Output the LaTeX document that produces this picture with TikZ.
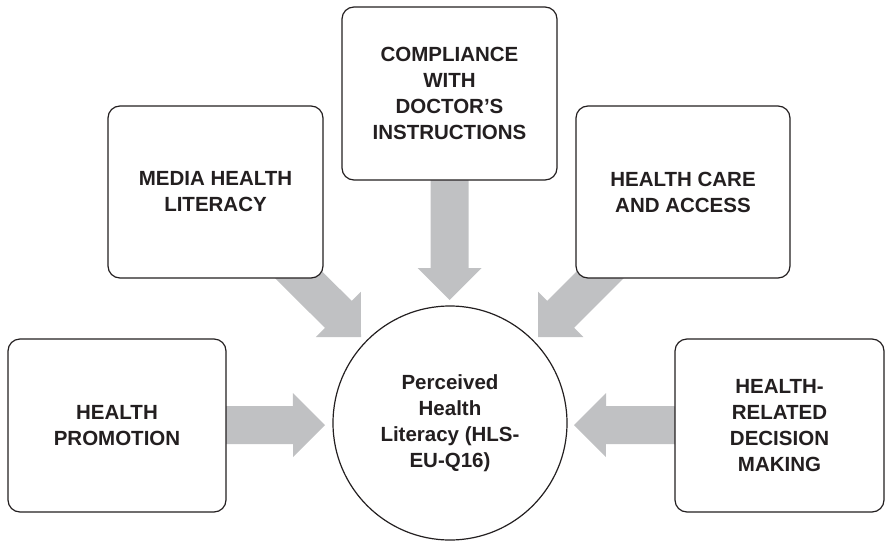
\documentclass[tikz,border=0pt]{standalone}
\usepackage{fontspec}
\setmainfont{Liberation Sans}
\usetikzlibrary{calc}
\pgfdeclarelayer{bg}
\pgfsetlayers{bg,main}
\definecolor{inkdark}{HTML}{231F20}
\definecolor{arrowgray}{HTML}{C0C1C3}
\tikzset{
  factor/.style={draw=inkdark, line width=1.2pt, fill=white, rounded corners=12pt,
    inner sep=0pt, align=center, text=inkdark,
    font=\fontsize{20.5}{26}\selectfont\bfseries},
  outcome/.style={draw=inkdark, line width=1.2pt, fill=white, circle,
    minimum size=234pt, inner sep=0pt, align=center, text=inkdark,
    font=\fontsize{20.5}{26}\selectfont\bfseries},
  blockarrow/.style={fill=arrowgray}
}
% Block arrow from #1 to tip #2: shaft 38pt wide, head 64pt wide and 32pt long
\newcommand\blockarrow[2]{%
  \coordinate (ba-h) at ($(#2)!32pt!(#1)$);
  \fill[blockarrow]
    ($(#1)!19pt!90:(#2)$) -- ($(ba-h)!19pt!90:(#2)$) -- ($(ba-h)!32pt!90:(#2)$)
    -- (#2)
    -- ($(ba-h)!32pt!-90:(#2)$) -- ($(ba-h)!19pt!-90:(#2)$) -- ($(#1)!19pt!-90:(#2)$)
    -- cycle;
}
\begin{document}
\begin{tikzpicture}[x=1pt,y=-1pt]
  \useasboundingbox (0,0) rectangle (886,541);

  % central outcome
  \node[outcome] (hl) at (450,423) {Perceived\\Health\\Literacy (HLS-\\EU-Q16)};

  % surrounding factors
  \node[factor, minimum width=218pt, minimum height=173pt] (hp) at (117,425.5) {HEALTH\\PROMOTION};
  \node[factor, minimum width=215pt, minimum height=172pt] (mhl) at (215.5,192) {MEDIA HEALTH\\LITERACY};
  \node[factor, minimum width=215pt, minimum height=173pt] (cdi) at (449.5,93.5) {COMPLIANCE\\WITH\\DOCTOR'S\\INSTRUCTIONS};
  \node[factor, minimum width=214pt, minimum height=172pt] (hca) at (683,192) {HEALTH CARE\\AND ACCESS};
  \node[factor, minimum width=209pt, minimum height=173pt] (hrdm) at (779.5,425.5) {HEALTH-\\RELATED\\DECISION\\MAKING};

  % arrow tips just outside the circle
  \coordinate (t-hp) at (325,425);
  \coordinate (t-mhl) at (361,337);
  \coordinate (t-cdi) at (449.5,300);
  \coordinate (t-hca) at (538,337);
  \coordinate (t-hrdm) at (574,425);

  % arrows run behind the boxes
  \begin{pgfonlayer}{bg}
    \blockarrow{hp.center}{t-hp}
    \blockarrow{mhl.center}{t-mhl}
    \blockarrow{cdi.center}{t-cdi}
    \blockarrow{hca.center}{t-hca}
    \blockarrow{hrdm.center}{t-hrdm}
  \end{pgfonlayer}
\end{tikzpicture}
\end{document}
